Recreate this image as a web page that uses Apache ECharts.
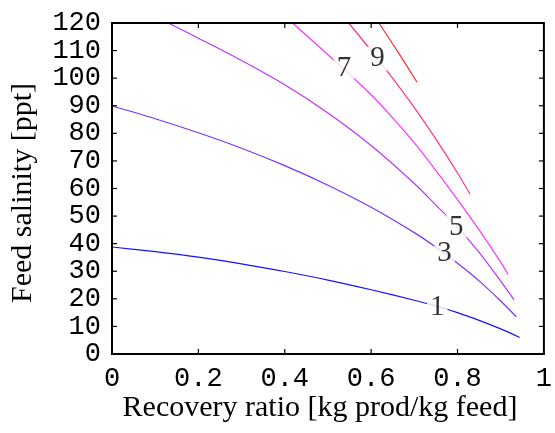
<!DOCTYPE html>
<html>
<head>
<meta charset="utf-8">
<script src="https://cdn.jsdelivr.net/npm/echarts@6/dist/echarts.min.js"></script>
<style>
  html, body { margin: 0; padding: 0; background: #fff; }
  #chart { width: 555px; height: 433px; }
</style>
</head>
<body>
<div id="chart"></div>
<script>
// contour levels
const ratio1 = [0, 0.1, 0.2, 0.3, 0.4, 0.5, 0.6, 0.7, 0.75, 0.8, 0.85, 0.9, 0.944]
const salinity1 = [38.8, 37.1, 35.1, 32.7, 29.9, 26.8, 23.3, 19.5, 17.4, 15.0, 12.2, 9.1, 6.0]

const ratio3 = [0, 0.1, 0.2, 0.3, 0.4, 0.5, 0.6, 0.7, 0.75, 0.8, 0.85, 0.9, 0.936]
const salinity3 = [89.9, 85.3, 80.2, 74.6, 68.3, 61.2, 53.2, 44.0, 38.7, 32.9, 26.5, 19.2, 13.5]

const ratio5 = [0.13, 0.2, 0.3, 0.4, 0.5, 0.6, 0.7, 0.75, 0.8, 0.85, 0.9, 0.931]
const salinity5 = [120, 114.5, 106.4, 97.6, 87.4, 75.6, 61.8, 54.0, 46.0, 36.8, 26.4, 19.6]

const ratio7 = [0.418, 0.5, 0.6, 0.65, 0.7, 0.75, 0.8, 0.85, 0.9, 0.917]
const salinity7 = [120, 108.5, 94.0, 85.6, 76.5, 66.5, 56.0, 45.0, 33.3, 28.8]

const ratio9 = [0.548, 0.6, 0.65, 0.7, 0.75, 0.8, 0.829]
const salinity9 = [120, 110.0, 99.9, 89.3, 77.9, 65.6, 57.9]

const ratio11 = [0.618, 0.66, 0.702, 0.706]
const salinity11 = [120, 110, 99.6, 98.5]

const labelText = ['1', '3', '5', '7', '9']
const labelRatio = [0.753, 0.770, 0.797, 0.537, 0.615]
const labelSalinity = [16.9, 36.4, 46.0, 103.5, 107.1]

const xTicks = { 0: '0', 0.2: '0.2', 0.4: '0.4', 0.6: '0.6', 0.8: '0.8', 1: '1' }
const xTickValues = [0.2, 0.4, 0.6, 0.8]
const yTickValues = [10, 20, 30, 40, 50, 60, 70, 80, 90, 100, 110]

const contours = [
  [ratio1, salinity1, '#1414ff'],
  [ratio3, salinity3, '#7a33ff'],
  [ratio5, salinity5, '#bb33ff'],
  [ratio7, salinity7, '#ff33ff'],
  [ratio9, salinity9, '#ff3388'],
  [ratio11, salinity11, '#ff2a2a']
]

const zip = (xs, ys) => xs.map((x, i) => [x, ys[i]])

const monoFont = 'Liberation Mono'
const serifFont = 'Liberation Serif'

let chart = echarts.init(document.getElementById('chart'))

const series = contours.map(([xs, ys, color]) => ({
  type: 'line',
  data: zip(xs, ys),
  showSymbol: false,
  smooth: 0.3,
  silent: true,
  lineStyle: { color: color, width: 1.2 },
  z: 2
}))

series.push({
  type: 'scatter',
  data: labelRatio.map((x, i) => ({ value: [x, labelSalinity[i]], name: labelText[i] })),
  symbolSize: 0,
  silent: true,
  z: 10,
  label: {
    show: true,
    position: 'inside',
    formatter: p => p.name,
    fontFamily: serifFont,
    fontSize: 29,
    color: '#000',
    backgroundColor: '#fff',
    padding: [0, 3],
    lineHeight: 24
  }
})

chart.setOption({
  animation: false,
  backgroundColor: '#fff',
  grid: { left: 112, right: 9, top: 23, bottom: 79 },
  xAxis: {
    type: 'value',
    min: 0,
    max: 1,
    interval: 0.2,
    axisLine: { show: false },
    axisTick: { show: false },
    splitLine: { show: false },
    axisLabel: {
      margin: 11,
      fontFamily: monoFont,
      fontSize: 27,
      color: '#000',
      formatter: v => xTicks[v] || ''
    }
  },
  yAxis: {
    type: 'value',
    min: 0,
    max: 120,
    interval: 10,
    axisLine: { show: false },
    axisTick: { show: false },
    splitLine: { show: false },
    axisLabel: {
      margin: 11,
      fontFamily: monoFont,
      fontSize: 27,
      color: '#000'
    }
  },
  series: series
})

// frame and inward ticks on all four sides, placed through the chart's own scales
const toPx = (x, y) => chart.convertToPixel({ gridIndex: 0 }, [x, y])
const [plotLeft, plotBottom] = toPx(0, 0)
const [plotRight, plotTop] = toPx(1, 120)
const tickLen = 5
const tickStyle = { stroke: '#000', lineWidth: 1.2 }

const frame = [{
  type: 'rect',
  z: 100,
  silent: true,
  shape: { x: plotLeft, y: plotTop, width: plotRight - plotLeft, height: plotBottom - plotTop },
  style: { fill: 'none', stroke: '#000', lineWidth: 2 }
}]

xTickValues.forEach(v => {
  const px = toPx(v, 0)[0]
  frame.push({ type: 'line', z: 100, silent: true, shape: { x1: px, y1: plotBottom, x2: px, y2: plotBottom - tickLen }, style: tickStyle })
  frame.push({ type: 'line', z: 100, silent: true, shape: { x1: px, y1: plotTop, x2: px, y2: plotTop + tickLen }, style: tickStyle })
})
yTickValues.forEach(v => {
  const py = toPx(0, v)[1]
  frame.push({ type: 'line', z: 100, silent: true, shape: { x1: plotLeft, y1: py, x2: plotLeft + tickLen, y2: py }, style: tickStyle })
  frame.push({ type: 'line', z: 100, silent: true, shape: { x1: plotRight, y1: py, x2: plotRight - tickLen, y2: py }, style: tickStyle })
})

frame.push({
  type: 'text',
  x: 320,
  y: 408,
  style: {
    text: 'Recovery ratio [kg prod/kg feed]',
    font: '30px "Liberation Serif"',
    fill: '#000',
    align: 'center',
    verticalAlign: 'middle'
  }
})
frame.push({
  type: 'text',
  x: 23,
  y: 193,
  rotation: Math.PI / 2,
  style: {
    text: 'Feed salinity [ppt]',
    font: '30px "Liberation Serif"',
    fill: '#000',
    align: 'center',
    verticalAlign: 'middle'
  }
})

chart.setOption({ graphic: frame })
</script>
</body>
</html>
